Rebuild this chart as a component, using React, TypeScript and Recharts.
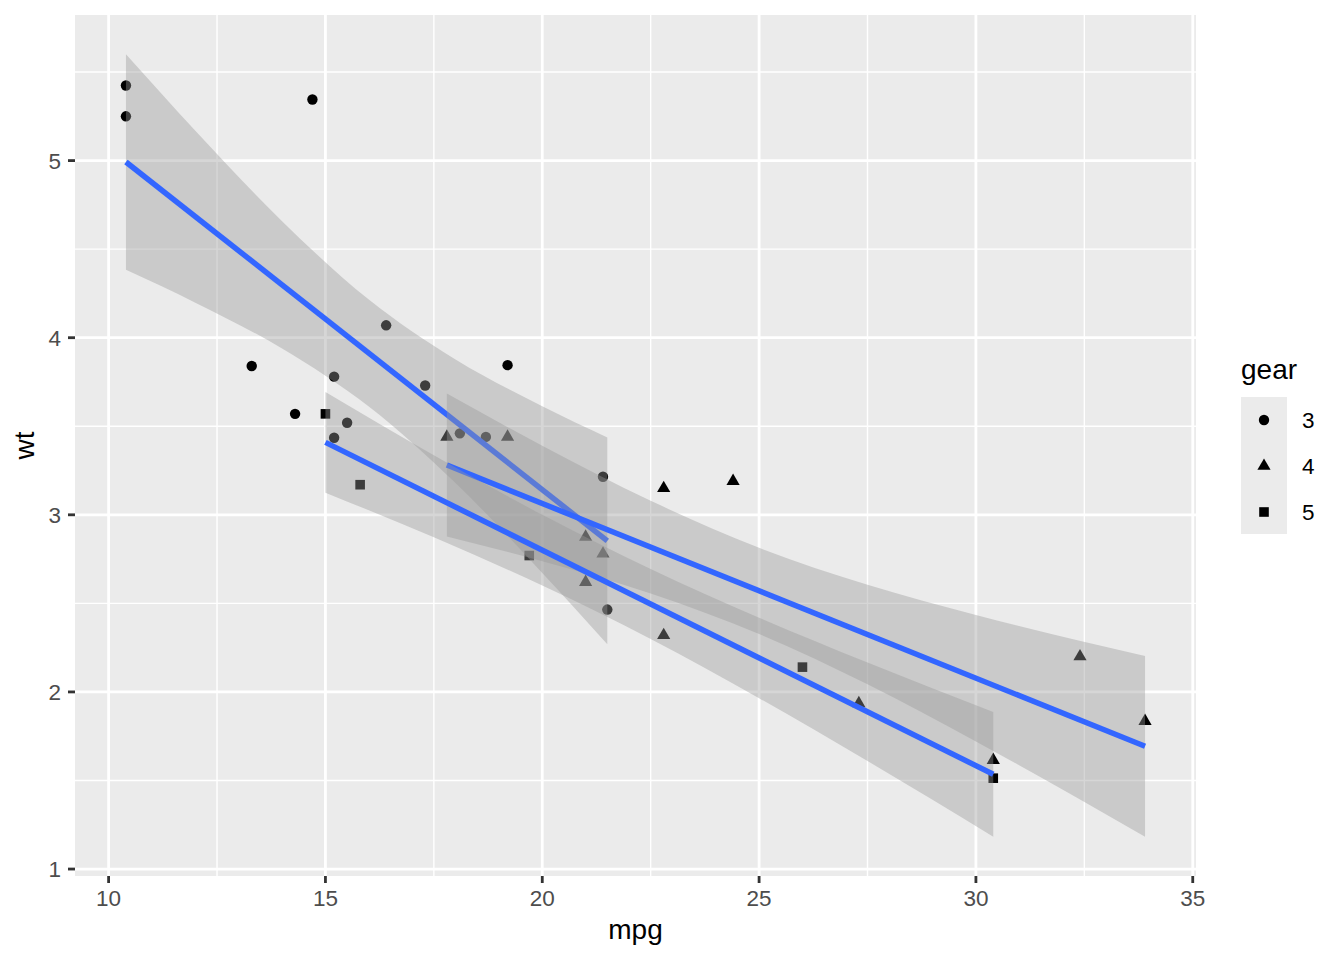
import { ComposedChart, Scatter, Area, Line, XAxis, YAxis, CartesianGrid } from 'recharts';

const FONT = '"Liberation Sans", Arial, Helvetica, sans-serif';

// mtcars: mpg / wt, split by gear
const gear3 = [
  { mpg: 21.4, wt: 3.215 }, { mpg: 18.7, wt: 3.44 }, { mpg: 18.1, wt: 3.46 },
  { mpg: 14.3, wt: 3.57 }, { mpg: 16.4, wt: 4.07 }, { mpg: 17.3, wt: 3.73 },
  { mpg: 15.2, wt: 3.78 }, { mpg: 10.4, wt: 5.25 }, { mpg: 10.4, wt: 5.424 },
  { mpg: 14.7, wt: 5.345 }, { mpg: 21.5, wt: 2.465 }, { mpg: 15.5, wt: 3.52 },
  { mpg: 15.2, wt: 3.435 }, { mpg: 13.3, wt: 3.84 }, { mpg: 19.2, wt: 3.845 },
];
const gear4 = [
  { mpg: 21.0, wt: 2.62 }, { mpg: 21.0, wt: 2.875 }, { mpg: 22.8, wt: 2.32 },
  { mpg: 24.4, wt: 3.19 }, { mpg: 22.8, wt: 3.15 }, { mpg: 19.2, wt: 3.44 },
  { mpg: 17.8, wt: 3.44 }, { mpg: 32.4, wt: 2.2 }, { mpg: 30.4, wt: 1.615 },
  { mpg: 33.9, wt: 1.835 }, { mpg: 27.3, wt: 1.935 }, { mpg: 21.4, wt: 2.78 },
];
const gear5 = [
  { mpg: 26.0, wt: 2.14 }, { mpg: 30.4, wt: 1.513 }, { mpg: 15.8, wt: 3.17 },
  { mpg: 19.7, wt: 2.77 }, { mpg: 15.0, wt: 3.57 },
];

// fitted lines
const fit3 = [{ mpg: 10.4, wt: 4.992 }, { mpg: 21.5, wt: 2.853 }];
const fit4 = [{ mpg: 17.8, wt: 3.281 }, { mpg: 33.9, wt: 1.693 }];
const fit5 = [{ mpg: 15.0, wt: 3.409 }, { mpg: 30.4, wt: 1.535 }];

// confidence bands
const band3 = [
  { mpg: 10.4, lo: 4.383, hi: 5.601 }, { mpg: 12, lo: 4.198, hi: 5.169 },
  { mpg: 14, lo: 3.939, hi: 4.658 }, { mpg: 16, lo: 3.611, hi: 4.215 },
  { mpg: 18, lo: 3.179, hi: 3.877 }, { mpg: 20, lo: 2.672, hi: 3.613 },
  { mpg: 21.5, lo: 2.269, hi: 3.437 },
];
const band4 = [
  { mpg: 17.8, lo: 2.877, hi: 3.685 }, { mpg: 20, lo: 2.738, hi: 3.39 },
  { mpg: 22.5, lo: 2.556, hi: 3.079 }, { mpg: 25, lo: 2.327, hi: 2.814 },
  { mpg: 27.5, lo: 2.043, hi: 2.605 }, { mpg: 30, lo: 1.72, hi: 2.435 },
  { mpg: 33.9, lo: 1.182, hi: 2.203 },
];
const band5 = [
  { mpg: 15, lo: 3.125, hi: 3.693 }, { mpg: 17.5, lo: 2.873, hi: 3.336 },
  { mpg: 20, lo: 2.601, hi: 3.0 }, { mpg: 22.5, lo: 2.299, hi: 2.694 },
  { mpg: 25, lo: 1.965, hi: 2.419 }, { mpg: 27.5, lo: 1.61, hi: 2.166 },
  { mpg: 30.4, lo: 1.183, hi: 1.887 },
];

const xTicks = [10, 15, 20, 25, 30, 35];
const xMinor = [12.5, 17.5, 22.5, 27.5, 32.5];
const yTicks = [1, 2, 3, 4, 5];
const yMinor = [1.5, 2.5, 3.5, 4.5, 5.5];
const gearLabels = ['3', '4', '5'];

const bandRange = (d: any) => [d.lo, d.hi];

const Circle = (p: any) => <circle cx={p.cx} cy={p.cy} r={5.2} fill="#000" />;
const Triangle = (p: any) => (
  <polygon
    points={`${p.cx},${p.cy - 7.6} ${p.cx + 6.6},${p.cy + 3.8} ${p.cx - 6.6},${p.cy + 3.8}`}
    fill="#000"
  />
);
const Square = (p: any) => <rect x={p.cx - 4.8} y={p.cy - 4.8} width={9.6} height={9.6} fill="#000" />;

const legendShapes = [Circle, Triangle, Square];

export default function App() {
  const tick = { fontSize: 22.5, fill: '#4D4D4D', fontFamily: FONT };
  const tickLine = { stroke: '#333333', strokeWidth: 2.8 };
  return (
    <div style={{ position: 'absolute', left: 0, top: 0, width: 1344, height: 960, background: '#fff' }}>
      <ComposedChart
        width={1344}
        height={960}
        margin={{ top: 15, right: 148, bottom: 0, left: 0 }}
        style={{ fontFamily: FONT }}
      >
        <CartesianGrid
          fill="#EBEBEB"
          stroke="#FFFFFF"
          strokeWidth={1.4}
          verticalValues={xMinor}
          horizontalValues={yMinor}
        />
        <CartesianGrid
          stroke="#FFFFFF"
          strokeWidth={2.8}
          verticalValues={xTicks}
          horizontalValues={yTicks}
        />
        <XAxis
          type="number"
          dataKey="mpg"
          domain={[9.225, 35.075]}
          ticks={xTicks}
          allowDataOverflow
          height={84}
          axisLine={false}
          tickLine={tickLine}
          tickSize={7}
          tickMargin={7}
          tick={tick}
        />
        <YAxis
          type="number"
          dataKey="wt"
          domain={[0.9607, 5.822]}
          ticks={yTicks}
          allowDataOverflow
          width={75}
          axisLine={false}
          tickLine={tickLine}
          tickSize={7}
          tickMargin={7}
          tick={tick}
        />
        <Scatter data={gear3} dataKey="wt" shape={Circle} isAnimationActive={false} zIndex={100} />
        <Scatter data={gear4} dataKey="wt" shape={Triangle} isAnimationActive={false} zIndex={100} />
        <Scatter data={gear5} dataKey="wt" shape={Square} isAnimationActive={false} zIndex={100} />
        <Area data={band3} dataKey={bandRange} type="monotone" stroke="none" fill="#999999" fillOpacity={0.4} isAnimationActive={false} zIndex={110} />
        <Line data={fit3} dataKey="wt" type="linear" stroke="#3366FF" strokeWidth={5.5} dot={false} isAnimationActive={false} zIndex={120} />
        <Area data={band4} dataKey={bandRange} type="monotone" stroke="none" fill="#999999" fillOpacity={0.4} isAnimationActive={false} zIndex={130} />
        <Line data={fit4} dataKey="wt" type="linear" stroke="#3366FF" strokeWidth={5.5} dot={false} isAnimationActive={false} zIndex={140} />
        <Area data={band5} dataKey={bandRange} type="monotone" stroke="none" fill="#999999" fillOpacity={0.4} isAnimationActive={false} zIndex={150} />
        <Line data={fit5} dataKey="wt" type="linear" stroke="#3366FF" strokeWidth={5.5} dot={false} isAnimationActive={false} zIndex={160} />
      </ComposedChart>
      <svg
        width={1344}
        height={960}
        style={{ position: 'absolute', left: 0, top: 0, pointerEvents: 'none', fontFamily: FONT }}
      >
        <text x={635.5} y={939} textAnchor="middle" fontSize={28} fill="#000">mpg</text>
        <text x={34} y={445.5} textAnchor="middle" fontSize={28} fill="#000" transform="rotate(-90 34 445.5)">wt</text>
        <text x={1241} y={379} fontSize={28} fill="#000">gear</text>
        <rect x={1241} y={397} width={46} height={137} fill="#EBEBEB" />
        {gearLabels.map((g, i) => {
          const Shape = legendShapes[i];
          const cy = 420 + i * 46;
          return (
            <g key={g}>
              <Shape cx={1264} cy={cy} />
              <text x={1302} y={cy + 8} fontSize={22.5} fill="#000">{g}</text>
            </g>
          );
        })}
      </svg>
    </div>
  );
}
